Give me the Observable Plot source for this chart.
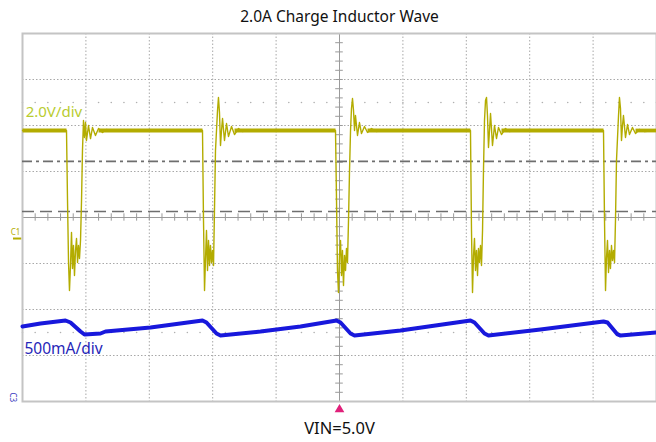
<!DOCTYPE html>
<html>
<head>
<meta charset="utf-8">
<script src="https://cdn.jsdelivr.net/npm/d3@7"></script>
<script src="https://cdn.jsdelivr.net/npm/@observablehq/plot@0.6"></script>
<style>
  html, body { margin: 0; padding: 0; background: #fff; }
  #chart svg { display: block; }
</style>
</head>
<body>
<div id="chart"></div>
<script>
// ---- Data (screen divisions: x = time div 0..10, y = vertical div -4..4) ----
const title = "2.0A Charge Inductor Wave";
const caption = "VIN=5.0V";
const ch1Label = "2.0V/div";
const ch3Label = "500mA/div";

// Channel 1: switch-node voltage (divisions)
const ch1Time = [
  0, 0.694, 0.710, 0.726, 0.741, 0.757, 0.773, 0.789, 0.804, 0.820, 0.836, 0.852, 0.868, 0.883, 0.899, 0.915, 0.931, 0.946, 0.962, 0.978, 0.994, 1.009, 1.041, 1.073, 1.104, 1.151, 1.199, 1.262, 1.325, 1.388,
  2.839, 2.855, 2.871, 2.886, 2.902, 2.918, 2.934, 2.950, 2.965, 2.981, 2.997, 3.013, 3.028, 3.044, 3.076, 3.091, 3.107, 3.123, 3.139, 3.155, 3.186, 3.218, 3.249, 3.297, 3.344, 3.407, 3.470, 3.533,
  4.937, 4.953, 4.968, 4.984, 5.000, 5.016, 5.032, 5.047, 5.063, 5.079, 5.095, 5.110, 5.126, 5.142, 5.158, 5.174, 5.189, 5.205, 5.221, 5.237, 5.252, 5.284, 5.315, 5.347, 5.394, 5.442, 5.505, 5.584, 5.647,
  7.066, 7.082, 7.098, 7.114, 7.129, 7.145, 7.161, 7.177, 7.192, 7.208, 7.224, 7.240, 7.256, 7.271, 7.287, 7.303, 7.319, 7.334, 7.350, 7.366, 7.382, 7.397, 7.413, 7.445, 7.476, 7.508, 7.555, 7.618, 7.681, 7.760,
  9.164, 9.180, 9.196, 9.211, 9.227, 9.243, 9.259, 9.274, 9.290, 9.306, 9.322, 9.338, 9.353, 9.369, 9.401, 9.416, 9.432, 9.448, 9.464, 9.479, 9.511, 9.543, 9.574, 9.621, 9.669, 9.732, 9.811, 10.0
];
const ch1Level = [
  1.891, 1.891, 0.370, -0.978, -1.587, -1.043, -0.326, -1.109, -0.609, -1.261, -0.717, -0.457, -0.978, -0.609, -0.891, -0.500, 0.370, 1.457, 2.109, 1.739, 2.065, 1.674, 2.000, 1.717, 1.957, 1.783, 1.935, 1.848, 1.913, 1.891,
  1.891, -0.065, -1.587, -0.935, -0.283, -1.152, -0.500, -1.043, -0.609, -0.978, -0.717, -1.043, 0.152, 1.457, 2.326, 2.609, 2.283, 1.565, 1.891, 2.152, 1.674, 2.043, 1.761, 1.978, 1.804, 1.935, 1.870, 1.891,
  1.891, 0.370, -1.152, -1.630, -0.826, -0.500, -1.261, -0.717, -1.478, -0.826, -1.152, -0.674, -0.978, -0.065, 1.022, 1.891, 2.370, 2.587, 2.326, 1.891, 2.217, 1.783, 2.065, 1.826, 1.978, 1.848, 1.935, 1.870, 1.891,
  1.891, -0.283, -1.630, -0.826, -0.457, -1.152, -0.717, -1.261, -0.674, -0.978, -0.609, -1.043, -0.283, 1.022, 2.109, 2.543, 2.609, 2.217, 1.522, 1.891, 2.261, 1.935, 1.565, 2.000, 1.717, 1.957, 1.804, 1.935, 1.870, 1.891,
  1.891, -0.065, -1.587, -0.891, -0.500, -1.196, -0.717, -1.109, -0.609, -0.935, -0.717, -0.978, -0.065, 1.239, 2.217, 2.609, 2.370, 1.674, 2.000, 2.217, 1.739, 2.022, 1.804, 1.957, 1.826, 1.913, 1.870, 1.891
];
// Flat high plateaus of channel 1 (noisy, drawn as a thicker band)
const plateauStart = [0, 1.199, 3.344, 5.442, 7.555, 9.669];
const plateauEnd   = [0.694, 2.839, 4.937, 7.066, 9.164, 10.0];
const plateauLevel = 1.891;

// Channel 3: inductor current (divisions)
const ch3Time  = [0, 0.284, 0.678, 0.757, 0.915, 0.978, 1.230, 1.309, 2.019, 2.839, 2.902, 3.060, 3.123, 3.754, 4.385, 4.953, 5.016, 5.174, 5.237, 5.962, 7.066, 7.129, 7.287, 7.350, 8.170, 9.164, 9.227, 9.385, 9.432, 10.0];
const ch3Level = [-2.370, -2.304, -2.239, -2.283, -2.478, -2.543, -2.522, -2.478, -2.391, -2.239, -2.283, -2.522, -2.565, -2.478, -2.370, -2.239, -2.283, -2.522, -2.565, -2.457, -2.239, -2.283, -2.522, -2.565, -2.435, -2.261, -2.283, -2.543, -2.565, -2.500];

// Reference lines (cursor levels, divisions)
const dashDotLevel = 1.22;
const dashLevel = 0.13;
const ch1Ground = -0.457;
const ch3Ground = -3.91;

// ---- Build tables ----
const ch1 = ch1Time.map((t, i) => ({t, v: ch1Level[i]}));
const ch3 = ch3Time.map((t, i) => ({t, v: ch3Level[i]}));
const plateaus = plateauStart.map((s, i) => ({x1: s, x2: plateauEnd[i], y: plateauLevel}));

const gridX = [1, 2, 3, 4, 6, 7, 8, 9];
const gridY = [-3, -2, -1, 1, 2, 3];
const minorX = d3.range(0, 10.001, 0.2);
const minorY = d3.range(-4, 4.001, 0.2);

const yellow = "#b3ac00";
const blue = "#1818dc";
const font = "'Noto Sans', 'Open Sans', sans-serif";

const chart = Plot.plot({
  width: 656,
  height: 442,
  marginTop: 33,
  marginBottom: 41,
  marginLeft: 22,
  marginRight: 0,
  x: {domain: [0, 10], axis: null},
  y: {domain: [-4, 4], axis: null},
  style: {fontFamily: font, background: "#fff", overflow: "visible"},
  marks: [
    // graticule
    Plot.ruleX(gridX, {stroke: "#a8a8a8", strokeDasharray: "1.5,2", strokeWidth: 1}),
    Plot.ruleY(gridY, {stroke: "#a8a8a8", strokeDasharray: "1.5,2", strokeWidth: 1}),
    Plot.dot(minorX, {x: d => d, y: 2.5, r: 0.8, fill: "#b0b0b0", stroke: "none"}),
    Plot.dot(minorX, {x: d => d, y: -2.5, r: 0.8, fill: "#b0b0b0", stroke: "none"}),
    Plot.ruleX([5], {stroke: "#9a9a9a", strokeWidth: 1}),
    Plot.ruleY([0], {stroke: "#9a9a9a", strokeWidth: 1}),
    Plot.ruleX(minorX, {x: d => d, y1: -0.08, y2: 0.08, stroke: "#9a9a9a", strokeWidth: 1}),
    Plot.ruleY(minorY, {y: d => d, x1: 4.94, x2: 5.06, stroke: "#9a9a9a", strokeWidth: 1}),
    Plot.frame({stroke: "#c4c4c4", strokeWidth: 2}),
    // cursor lines
    Plot.ruleY([dashDotLevel], {stroke: "#6e6e6e", strokeWidth: 1.6, strokeDasharray: "10,4,3,4"}),
    Plot.ruleY([dashLevel], {stroke: "#6e6e6e", strokeWidth: 1.6, strokeDasharray: "12,6"}),
    // channel 3 current
    Plot.line(ch3, {x: "t", y: "v", stroke: blue, strokeWidth: 4, curve: "linear"}),
    // channel 1 voltage
    Plot.line(ch1, {x: "t", y: "v", stroke: yellow, strokeWidth: 1.4, curve: "linear"}),
    Plot.link(plateaus, {x1: "x1", x2: "x2", y1: "y", y2: "y", stroke: yellow, strokeWidth: 3.8}),
    // channel markers
    Plot.text(["C1"], {x: -0.11, y: -0.33, text: d => d, fill: yellow, fontSize: 8}),
    Plot.link([ch1Ground], {x1: -0.15, x2: -0.02, y1: d => d, y2: d => d, stroke: yellow, strokeWidth: 2}),
    Plot.text(["C3"], {x: -0.16, y: ch3Ground, text: d => d, fill: "#3a3ac0", fontSize: 8, rotate: 90}),
    // trigger marker
    Plot.dot([5], {x: d => d, y: -4, dy: 8, symbol: "triangle", r: 3.6, fill: "#e0207a", stroke: "none"}),
    // labels
    Plot.text([ch1Label], {x: 0.05, y: 2.30, text: d => d, textAnchor: "start", fill: "#b8cc30", fontSize: 15}),
    Plot.text([ch3Label], {x: 0.03, y: -2.85, text: d => d, textAnchor: "start", fill: "#2626b8", fontSize: 15.5}),
    Plot.text([title], {x: 5, y: 4, dy: -16, text: d => d, fill: "#111", fontSize: 15.5}),
    Plot.text([caption], {x: 5, y: -4, dy: 27, text: d => d, fill: "#111", fontSize: 16.5})
  ]
});
document.getElementById("chart").appendChild(chart);
</script>
</body>
</html>
